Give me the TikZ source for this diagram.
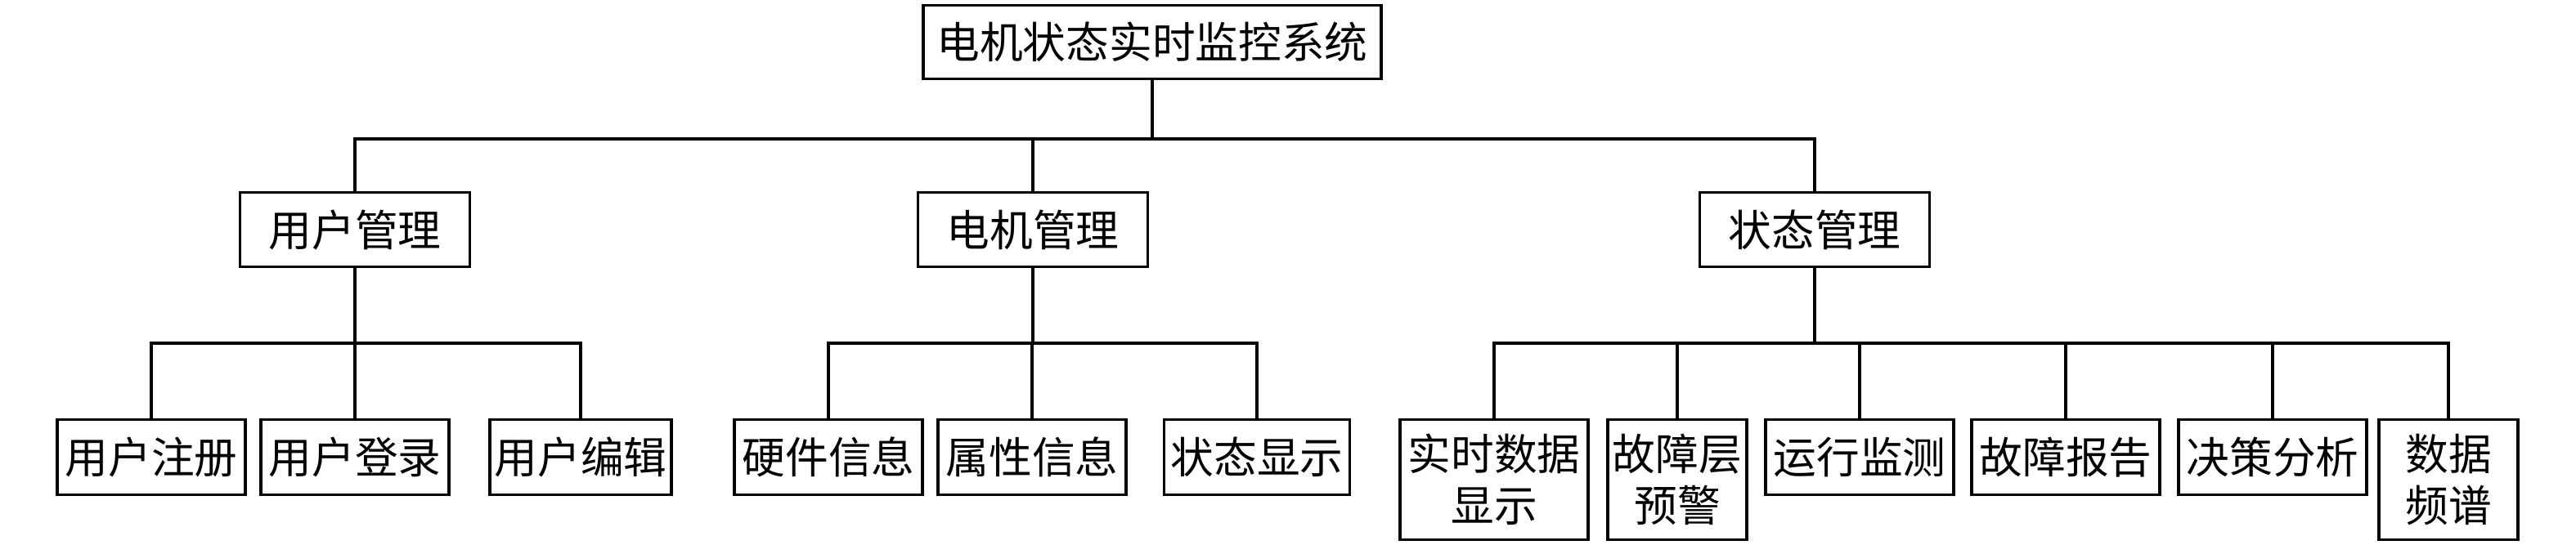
\documentclass[tikz,border=0pt]{standalone}
\usepackage{fontspec}
\newfontfamily\cjk{Noto Sans CJK SC}

\tikzset{
  box/.style={draw, line width=0.9pt, inner sep=0pt, align=center,
    font=\cjk\fontsize{15}{18}\selectfont},
  topbox/.style={box, minimum width=2.81cm, minimum height=0.91cm},
  leaf/.style={box, minimum width=2.30cm, minimum height=0.92cm},
  tall/.style={box, minimum width=1.70cm, minimum height=1.47cm},
  link/.style={line width=0.9pt}
}

\begin{document}
\begin{tikzpicture}
    \useasboundingbox (0,0) rectangle (31.5,-6.67);
    % root and first level
    \node (root) [box, minimum width=5.60cm, minimum height=0.90cm] at (14.09,-0.515) {电机状态实时监控系统};
    \node (yhgl) [topbox] at (4.34,-2.81) {用户管理};
    \node (djgl) [topbox] at (12.63,-2.81) {电机管理};
    \node (ztgl) [topbox] at (22.19,-2.81) {状态管理};

    % leaves
    \node (yhzc) [leaf] at (1.85,-5.595) {用户注册};
    \node (yhdl) [leaf] at (4.34,-5.595) {用户登录};
    \node (yhbj) [leaf, minimum width=2.22cm] at (7.10,-5.595) {用户编辑};
    \node (yjxx) [leaf] at (10.13,-5.595) {硬件信息};
    \node (sxxx) [leaf] at (12.62,-5.595) {属性信息};
    \node (ztxs) [leaf, minimum width=2.27cm] at (15.37,-5.595) {状态显示};
    \node (sssj) [tall, minimum width=2.30cm] at (18.27,-5.87) {实时数据\\显示};
    \node (gzyj) [tall] at (20.51,-5.87) {故障层\\预警};
    \node (yxjc) [leaf] at (22.74,-5.595) {运行监测};
    \node (gzbg) [leaf] at (25.26,-5.595) {故障报告};
    \node (jcfx) [leaf] at (27.79,-5.595) {决策分析};
    \node (sjpp) [tall] at (29.94,-5.87) {数据\\频谱};

    % connectors
    \foreach \c in {yhgl,djgl,ztgl}
      \draw[link] (root.south) -- (root.south |- 0,-1.70) -| (\c.north);
    \foreach \c in {yhzc,yhdl,yhbj}
      \draw[link] (yhgl.south) -- (yhgl.south |- 0,-4.20) -| (\c.north);
    \foreach \c in {yjxx,sxxx,ztxs}
      \draw[link] (djgl.south) -- (djgl.south |- 0,-4.20) -| (\c.north);
    \foreach \c in {sssj,gzyj,yxjc,gzbg,jcfx,sjpp}
      \draw[link] (ztgl.south) -- (ztgl.south |- 0,-4.20) -| (\c.north);
\end{tikzpicture}
\end{document}
